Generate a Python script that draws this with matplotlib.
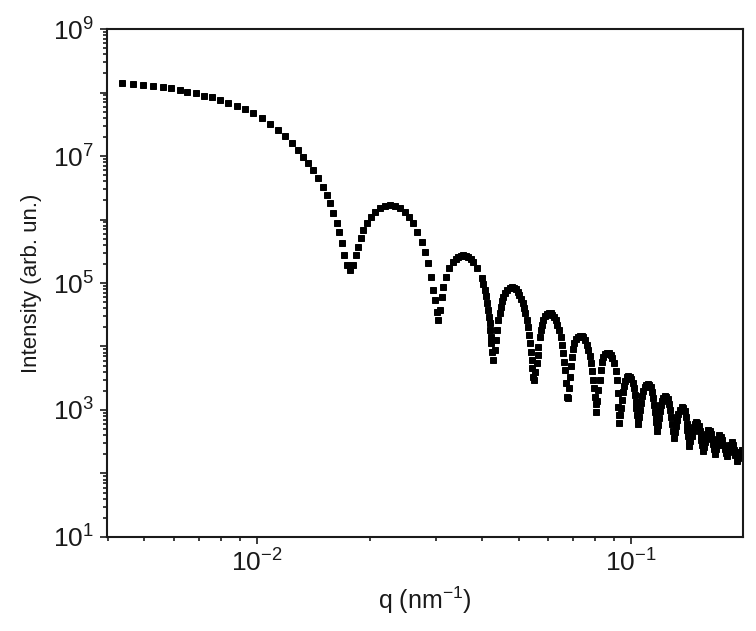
import math

import matplotlib
matplotlib.use("Agg")
import matplotlib.pyplot as plt
from matplotlib.ticker import LogLocator, FixedLocator, NullFormatter, FuncFormatter

plt.rcParams["font.family"] = ["Liberation Sans", "DejaVu Sans"]
plt.rcParams["mathtext.fontset"] = "custom"
plt.rcParams["mathtext.rm"] = "Liberation Sans"
plt.rcParams["mathtext.it"] = "Liberation Sans:italic"

# --- data: q in nm^-1, intensity in arb. units ---

# Guinier region + first fringe
q_low = [
    0.004363, 0.004670, 0.004966, 0.005282, 0.005597, 0.005890, 0.006224,
    0.006510, 0.006868, 0.007216, 0.007566, 0.007963, 0.008381, 0.008826,
    0.009288, 0.009775, 0.01029, 0.01083, 0.01140, 0.01188, 0.01238,
    0.01289, 0.01330, 0.01371, 0.01414, 0.01458, 0.01498, 0.01536,
    0.01568, 0.01600, 0.01634, 0.01660, 0.01685, 0.01709, 0.01738,
    0.01773, 0.01809, 0.01839, 0.01866, 0.01893, 0.01924, 0.01965,
    0.02014, 0.02068, 0.02133, 0.02199, 0.02268, 0.02339, 0.02412,
    0.02488, 0.02555, 0.02619, 0.02684, 0.02757, 0.02813, 0.02871,
    0.02919, 0.02961, 0.02992, 0.03023,
]
i_low = [
    1.396e8, 1.361e8, 1.313e8, 1.266e8, 1.208e8, 1.165e8, 1.095e8,
    1.029e8, 9.71e7, 8.91e7, 8.40e7, 7.62e7, 6.91e7, 6.20e7,
    5.44e7, 4.70e7, 3.92e7, 3.19e7, 2.57e7, 2.07e7, 1.585e7,
    1.243e7, 9.75e6, 7.67e6, 6.02e6, 4.46e6, 3.29e6, 2.43e6,
    1.80e6, 1.28e6, 8.71e5, 6.43e5, 4.22e5, 2.76e5, 1.92e5,
    1.60e5, 1.92e5, 2.76e5, 3.73e5, 5.06e5, 6.83e5, 8.71e5,
    1.107e6, 1.327e6, 1.501e6, 1.632e6, 1.673e6, 1.632e6, 1.501e6,
    1.327e6, 1.107e6, 8.71e5, 6.43e5, 4.47e5, 3.11e5, 2.04e5,
    1.257e5, 7.76e4, 5.40e4, 3.53e4,
]

# fringes 2 to 6
q_mid = [
    0.03042, 0.03085, 0.03117, 0.03148, 0.03201, 0.03267, 0.03349, 0.03401,
    0.03453, 0.03508, 0.03561, 0.03617, 0.03673, 0.03730, 0.03787, 0.03882,
    0.03988, 0.04030, 0.04070, 0.04102, 0.04128, 0.04156, 0.04179, 0.04192,
    0.04198, 0.04212, 0.04224, 0.04251, 0.04268,
    0.04317, 0.04355, 0.04390, 0.04418, 0.04452, 0.04483, 0.04521, 0.04556,
    0.04611, 0.04670, 0.04735, 0.04797, 0.04861, 0.04926, 0.04978, 0.05027,
    0.05081, 0.05133, 0.05175, 0.05216, 0.05256, 0.05294, 0.05330, 0.05370,
    0.05396, 0.05426, 0.05443, 0.05460, 0.05504,
    0.05548, 0.05596, 0.05624, 0.05651, 0.05694, 0.05736, 0.05782, 0.05829,
    0.05890, 0.05952, 0.06026, 0.06100, 0.06161, 0.06225, 0.06287, 0.06353,
    0.06420, 0.06486, 0.06540, 0.06592, 0.06633, 0.06673, 0.06703, 0.06731,
    0.06786,
    0.06817, 0.06870, 0.06911, 0.06955, 0.07004, 0.07055, 0.07126, 0.07204,
    0.07291, 0.07384, 0.07454, 0.07534, 0.07611, 0.07688, 0.07758, 0.07816,
    0.07878, 0.07928, 0.07975, 0.08011, 0.08039, 0.08061,
    0.08119, 0.08176, 0.08240, 0.08299, 0.08368, 0.08432, 0.08524, 0.08610,
    0.08716, 0.08825, 0.08912, 0.09006, 0.09084, 0.09157, 0.09202, 0.09248,
    0.09275, 0.09306,
]
i_mid = [
    2.61e4, 3.76e4, 6.09e4, 8.75e4, 1.257e5, 1.704e5, 2.165e5, 2.39e5,
    2.595e5, 2.70e5, 2.76e5, 2.70e5, 2.595e5, 2.39e5, 2.165e5, 1.704e5,
    1.186e5, 9.65e4, 7.76e4, 6.13e4, 4.79e4, 3.76e4, 2.95e4, 2.35e4,
    1.82e4, 1.43e4, 1.123e4, 8.32e3, 6.13e3,
    8.81e3, 1.266e4, 1.82e4, 2.61e4, 3.37e4, 4.24e4, 5.21e4, 6.09e4,
    6.96e4, 7.76e4, 8.26e4, 8.56e4, 8.40e4, 7.96e4, 7.27e4, 6.47e4,
    5.60e4, 4.79e4, 4.04e4, 3.33e4, 2.61e4, 2.05e4, 1.52e4, 1.123e4,
    8.32e3, 6.13e3, 4.59e3, 3.35e3, 2.97e3,
    3.97e3, 5.44e3, 7.35e3, 9.93e3, 1.39e4, 1.82e4, 2.22e4, 2.61e4,
    2.97e4, 3.21e4, 3.31e4, 3.33e4, 3.19e4, 2.95e4, 2.57e4, 2.18e4,
    1.79e4, 1.427e4, 1.06e4, 7.82e3, 5.79e3, 4.26e3, 2.66e3, 1.62e3,
    1.529e3,
    2.22e3, 3.35e3, 4.85e3, 6.91e3, 8.98e3, 1.123e4, 1.29e4, 1.427e4,
    1.46e4, 1.464e4, 1.39e4, 1.266e4, 1.075e4, 8.81e3, 6.96e3, 5.44e3,
    4.04e3, 2.97e3, 2.22e3, 1.62e3, 1.24e3, 940,
    1.39e3, 2.07e3, 2.97e3, 4.26e3, 5.60e3, 6.91e3, 7.62e3, 7.99e3,
    7.85e3, 7.35e3, 6.48e3, 5.44e3, 4.12e3, 2.97e3, 1.85e3, 1.127e3,
    835, 617,
]

# high-q fringes
q_high = [
    0.09356, 0.09403, 0.09460, 0.09519, 0.09578, 0.09638, 0.09727, 0.09835,
    0.09926, 0.1001, 0.1009, 0.1015, 0.1022, 0.1028, 0.1033, 0.1038,
    0.1042, 0.1046,
    0.1052, 0.1057, 0.1064, 0.1070, 0.1078, 0.1087, 0.1097, 0.1108,
    0.1119, 0.1128, 0.1137, 0.1145, 0.1152, 0.1159, 0.1164, 0.1168,
    0.1172, 0.1176,
    0.1182, 0.1188, 0.1196, 0.1203, 0.1210, 0.1218, 0.1233, 0.1243,
    0.1252, 0.1262, 0.1272, 0.1279, 0.1287, 0.1295, 0.1303,
    0.1311, 0.1319, 0.1327, 0.1336, 0.1350, 0.1366, 0.1378, 0.1390,
    0.1398, 0.1407, 0.1414, 0.1420, 0.1426, 0.1432,
    0.1441, 0.1451, 0.1460, 0.1469, 0.1480, 0.1492, 0.1504, 0.1515,
    0.1525, 0.1534, 0.1542, 0.1548, 0.1555, 0.1560,
    0.1570, 0.1577, 0.1584, 0.1591, 0.1601, 0.1609, 0.1621, 0.1631,
    0.1642, 0.1651, 0.1664, 0.1677,
    0.1688, 0.1698, 0.1710, 0.1722, 0.1736, 0.1751, 0.1764, 0.1778,
    0.1790, 0.1803,
    0.1814, 0.1828, 0.1843, 0.1859, 0.1871, 0.1886, 0.1900, 0.1917,
    0.1930, 0.1945, 0.1960, 0.1977, 0.1990,
]
i_high = [
    835, 1075, 1440, 1921, 2390, 2862, 3250, 3431,
    3330, 3080, 2660, 2221, 1720, 1337, 1060, 834,
    696, 602,
    777, 1000, 1290, 1662, 1990, 2302, 2480, 2567,
    2480, 2302, 1920, 1545, 1200, 930, 777, 647,
    550, 467,
    581, 748, 948, 1199, 1390, 1545, 1662, 1600,
    1490, 1240, 1000, 777, 602, 467, 362,
    450, 560, 696, 865, 1000, 1115, 1060, 964,
    777, 602, 485, 389, 325, 271,
    325, 389, 467, 540, 602, 647, 613, 560,
    467, 389, 331, 281, 252, 226,
    266, 313, 362, 419, 459, 484, 459, 419,
    350, 291, 245, 203,
    239, 281, 337, 404, 376, 337, 286, 243,
    214, 189,
    218, 252, 286, 313, 276, 235, 192, 157,
    175, 196, 218, 235, 218,
]

q_nm = q_low + q_mid + q_high
intensity = i_low + i_mid + i_high

fig = plt.figure(figsize=(7.56, 6.31), dpi=100)
ax = fig.add_axes([0.141, 0.149, 0.842, 0.805])

ax.plot(q_nm, intensity, linestyle="none", marker="s", markersize=5.0,
        color="black", markeredgewidth=0.7, markeredgecolor="black")

ax.set_xscale("log")
ax.set_yscale("log")
ax.set_xlim(0.00396, 0.1993)
ax.set_ylim(1e1, 1e9)


def odd_decades(v, pos):
    e = round(math.log10(v))
    return r"$10^{%d}$" % e if e % 2 == 1 else ""


# every decade gets a major tick, only odd exponents are labelled
ax.yaxis.set_major_locator(FixedLocator([10.0 ** k for k in range(1, 10)]))
ax.yaxis.set_major_formatter(FuncFormatter(odd_decades))
ax.yaxis.set_minor_locator(LogLocator(base=10, subs=range(2, 10), numticks=20))
ax.yaxis.set_minor_formatter(NullFormatter())

ax.xaxis.set_major_locator(FixedLocator([1e-2, 1e-1]))
ax.xaxis.set_major_formatter(FuncFormatter(
    lambda v, pos: r"$10^{%d}$" % round(math.log10(v))))
ax.xaxis.set_minor_locator(LogLocator(base=10, subs=range(2, 10), numticks=20))
ax.xaxis.set_minor_formatter(NullFormatter())

ax.tick_params(which="both", direction="out", top=False, right=False,
               width=1.2, labelsize=19, colors="#1a1a1a")
ax.tick_params(which="major", length=5, pad=4)
ax.tick_params(which="minor", length=3)
for s in ax.spines.values():
    s.set_linewidth(1.5)
    s.set_color("#1a1a1a")

ax.set_xlabel(r"q (nm$^{\mathregular{-1}}$)", fontsize=18, color="#1a1a1a", labelpad=6)
ax.set_ylabel("Intensity (arb. un.)", fontsize=16, color="#1a1a1a", labelpad=8)

fig.savefig("out.png", dpi=100)
